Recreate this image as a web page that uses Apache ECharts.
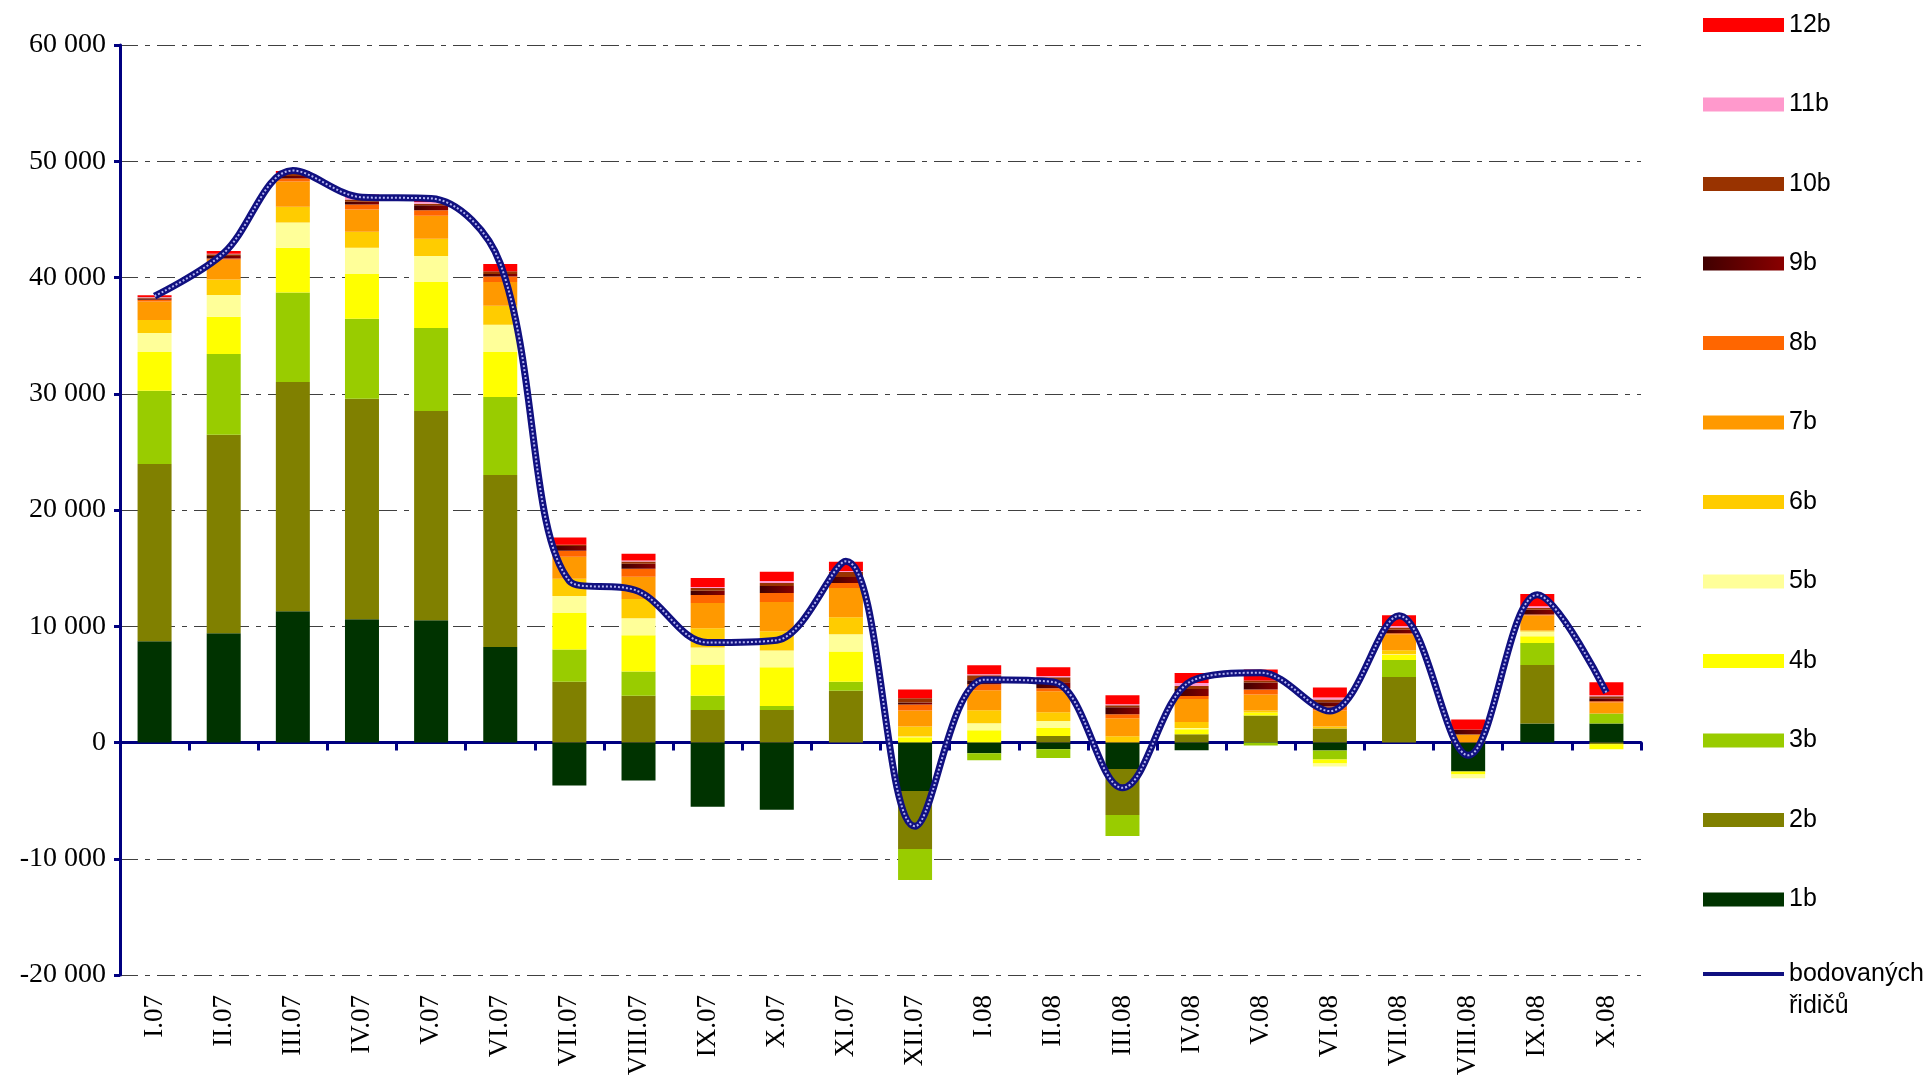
<!DOCTYPE html>
<html>
<head>
<meta charset="utf-8">
<script src="https://cdn.jsdelivr.net/npm/echarts@6/dist/echarts.min.js"></script>
<style>
  html, body { margin: 0; padding: 0; background: #fff; }
  #main { width: 1930px; height: 1080px; }
</style>
</head>
<body>
<div id="main"></div>
<script>
// kategorie (mesice)
var months = ['I.07', 'II.07', 'III.07', 'IV.07', 'V.07', 'VI.07', 'VII.07', 'VIII.07', 'IX.07', 'X.07', 'XI.07', 'XII.07',
  'I.08', 'II.08', 'III.08', 'IV.08', 'V.08', 'VI.08', 'VII.08', 'VIII.08', 'IX.08', 'X.08']

// prirustky podle poctu bodu
var b1 = [8700, 9390, 11300, 10610, 10510, 8210, -3700, -3270, -5520, -5780, 0, -4180, -920, -570, -2290, -660, 0, -690, 0, -2500, 1640, 1640]
var b2 = [15260, 17080, 19710, 18960, 18000, 14800, 5230, 4020, 2800, 2800, 4450, -4990, 0, 550, -3950, 720, 2320, 1210, 5640, 0, 5030, -150]
var b3 = [6300, 6950, 7690, 6880, 7150, 6720, 2780, 2080, 1220, 350, 780, -2660, -600, -770, -1810, 0, -250, -770, 1460, 0, 1890, 860]
var b4 = [3330, 3200, 3850, 3860, 3960, 3860, 3120, 3120, 2690, 3320, 2600, 450, 1060, 690, 0, 430, 260, -340, 430, -260, 580, -430]
var b5 = [1640, 1880, 2180, 2240, 2240, 2340, 1470, 1470, 1470, 1450, 1480, 60, 600, 600, 0, 90, 0, -260, 60, -320, 400, 0]
var b6 = [1120, 1320, 1350, 1390, 1480, 1640, 1480, 1650, 1650, 1650, 1470, 860, 1120, 770, 540, 520, 170, 170, 340, 0, 90, 0]
var b7 = [1590, 1710, 2170, 1910, 1980, 2050, 1900, 1910, 2160, 2510, 2510, 1380, 1720, 1800, 1550, 1980, 1380, 1380, 1380, 690, 1290, 950]
var b8 = [150, 100, 260, 430, 460, 460, 520, 690, 690, 780, 430, 520, 520, 260, 340, 260, 430, 340, 90, 0, 90, 90]
var b9 = [100, 230, 230, 230, 430, 230, 400, 430, 380, 610, 520, 170, 340, 520, 600, 600, 600, 370, 290, 430, 400, 260]
var b10 = [100, 150, 160, 200, 130, 230, 120, 200, 230, 260, 430, 370, 430, 430, 170, 260, 170, 230, 200, 0, 170, 170]
var b11 = [30, 30, 100, 200, 160, 0, 0, 90, 90, 170, 90, 0, 90, 90, 90, 260, 0, 170, 140, 0, 140, 90]
var b12 = [150, 230, 160, 230, 200, 630, 610, 580, 780, 780, 780, 750, 770, 770, 770, 860, 950, 860, 920, 860, 1060, 1120]

// celkovy prirustek bodovanych ridicu
var drivers = [38400, 42100, 49200, 46900, 46800, 41200, 13900, 13000, 8600, 8800, 15600, -7200,
  5400, 5200, -3900, 5300, 6000, 2700, 10900, -1100, 12700, 4300]

var yTicks = { min: -20000, max: 60000, step: 10000 }

var pointData = [b1, b2, b3, b4, b5, b6, b7, b8, b9, b10, b11, b12]
var pointNames = ['1b', '2b', '3b', '4b', '5b', '6b', '7b', '8b', '9b', '10b', '11b', '12b']
var pointColors = ['#003300', '#808000', '#99CC00', '#FFFF00', '#FFFF99', '#FFCC00', '#FF9900', '#FF6600',
  new echarts.graphic.LinearGradient(0, 0, 1, 0, [
    { offset: 0, color: '#400000' },
    { offset: 1, color: '#8a0000' }
  ]),
  '#993300', '#FF99CC', '#FF0000']
var lineName = 'bodovaných\nřidičů'

var myChart = echarts.init(document.getElementById('main'))

var series = []
for (var i = 0; i < pointData.length; i++) {
  series.push({
    name: pointNames[i],
    type: 'bar',
    stack: 'body',
    barWidth: 34,
    itemStyle: { color: pointColors[i] },
    data: pointData[i]
  })
}
// vyhlazena cara
series.push({
  name: lineName,
  type: 'line',
  smooth: 0.35,
  symbol: 'none',
  z: 10,
  lineStyle: { color: '#101080', width: 7 },
  itemStyle: { color: '#101080' },
  data: drivers
})
// svetlejsi stred cary (textura)
series.push({
  name: 'stred',
  type: 'line',
  smooth: 0.35,
  symbol: 'none',
  z: 11,
  silent: true,
  lineStyle: { color: '#b4b4f0', width: 2, type: [2, 2] },
  data: drivers
})

var legendText = {
  fontFamily: 'Liberation Sans',
  fontSize: 25,
  lineHeight: 26,
  color: '#000'
}

myChart.setOption({
  animation: false,
  grid: {
    left: 120,
    right: 289,
    top: 45,
    bottom: 105,
    containLabel: false,
    outerBoundsMode: 'none'
  },
  legend: [
    {
      data: pointNames.slice().reverse(),
      orient: 'vertical',
      left: 1698,
      top: 7,
      icon: 'rect',
      itemWidth: 81,
      itemHeight: 14,
      itemGap: 53.5,
      textStyle: legendText
    },
    {
      // prazdny prvni radek, aby ikona lezela u prvniho radku textu
      data: [{ name: lineName, icon: 'path://M0,0L80,0L80,4L0,4Z' }],
      orient: 'vertical',
      left: 1698,
      top: 921,
      itemWidth: 81,
      itemHeight: 14,
      formatter: function (name) {
        return '\n' + name
      },
      textStyle: {
        fontFamily: 'Liberation Sans',
        fontSize: 25,
        lineHeight: 32,
        color: '#000'
      }
    }
  ],
  xAxis: [
    {
      type: 'category',
      data: months,
      axisLine: { onZero: true, lineStyle: { color: '#000080', width: 3 } },
      axisTick: { show: true, length: 8, lineStyle: { color: '#000080', width: 3 } },
      axisLabel: { show: false },
      splitLine: { show: false }
    },
    {
      type: 'category',
      data: months,
      position: 'bottom',
      axisLine: { show: false },
      axisTick: { show: false },
      axisLabel: {
        rotate: 90,
        margin: 20,
        fontFamily: 'Liberation Serif',
        fontSize: 27,
        color: '#000'
      }
    }
  ],
  yAxis: {
    type: 'value',
    min: yTicks.min,
    max: yTicks.max,
    interval: yTicks.step,
    axisLine: { show: true, lineStyle: { color: '#000080', width: 3 } },
    axisTick: { show: true, length: 6, lineStyle: { color: '#000080', width: 3 } },
    axisLabel: {
      margin: 14,
      fontFamily: 'Liberation Serif',
      fontSize: 28,
      color: '#000',
      formatter: function (v) {
        var s = String(Math.abs(v)).replace(/\B(?=(\d{3})+(?!\d))/g, ' ')
        return (v < 0 ? '-' : '') + s
      }
    },
    splitLine: {
      show: true,
      lineStyle: { color: '#404040', width: 1, type: [18, 7, 5, 7] }
    }
  },
  series: series
})
</script>
</body>
</html>
